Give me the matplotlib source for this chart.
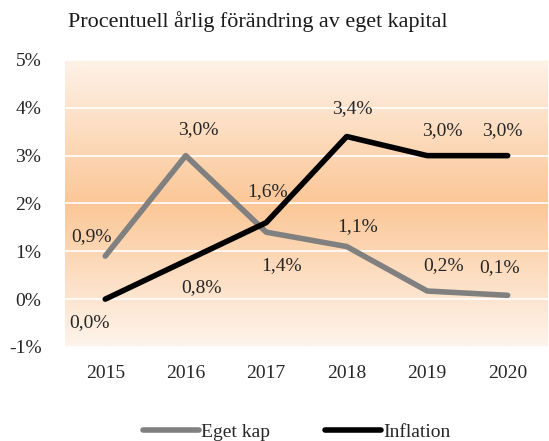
import numpy as np
import matplotlib
matplotlib.use('Agg')
import matplotlib.pyplot as plt
from matplotlib.colors import LinearSegmentedColormap

plt.rcParams['font.family'] = ['Liberation Serif', 'DejaVu Serif']

# Data
years = ['2015', '2016', '2017', '2018', '2019', '2020']
eget_kap = [0.9, 3.0, 1.4, 1.1, 0.17, 0.08]
inflation = [0.0, 0.8, 1.6, 3.4, 3.0, 3.0]
eget_kap_labels = ['0,9%', '3,0%', '1,4%', '1,1%', '0,2%', '0,1%']
inflation_labels = ['0,0%', '0,8%', '1,6%', '3,4%', '3,0%', '3,0%']
y_ticks = [-1, 0, 1, 2, 3, 4, 5]

# label offsets in points (dx, dy)
eget_offsets = [(-10, 14), (9, 19), (11, -24), (8, 14), (12, 18), (-6, 20)]
infl_offsets = [(-11, -17), (11, -19), (1, 22), (4, 20), (11, 18), (-4, 18)]

fig = plt.figure(figsize=(5.49, 4.41), dpi=100)
ax = fig.add_axes([0.1184, 0.2132, 0.8796, 0.6508])

x = np.arange(len(years))

# gradient background
cmap = LinearSegmentedColormap.from_list('bg', ['#FEF2E8', '#FBC797', '#FEF4EC'])
grad = np.linspace(0, 1, 256).reshape(-1, 1)
ax.imshow(grad, cmap=cmap, aspect='auto', extent=[0, 1, 0, 1],
          transform=ax.transAxes, zorder=0)

ax.set_xlim(-0.5, 5.5)
ax.set_ylim(-1, 5)
ax.set_yticks(y_ticks)
ax.set_yticklabels([f'{v}%' for v in y_ticks])
ax.set_xticks(x)
ax.set_xticklabels(years)
ax.yaxis.grid(True, color='white', lw=1.2, zorder=1)
ax.set_axisbelow(False)
ax.tick_params(length=0, labelsize=14, colors='#262626')
ax.tick_params(axis='x', pad=13)
ax.tick_params(axis='y', pad=17)
for s in ax.spines.values():
    s.set_visible(False)

l1, = ax.plot(x, eget_kap, color='#808080', lw=4, zorder=3, label='Eget kap',
              solid_capstyle='round')
l2, = ax.plot(x, inflation, color='#000000', lw=4, zorder=4, label='Inflation',
              solid_capstyle='round')

for xi, yi, t, off in zip(x, eget_kap, eget_kap_labels, eget_offsets):
    ax.annotate(t, (xi, yi), xytext=off, textcoords='offset points',
                ha='center', va='center', fontsize=14, color='#262626', zorder=5)
for xi, yi, t, off in zip(x, inflation, inflation_labels, infl_offsets):
    ax.annotate(t, (xi, yi), xytext=off, textcoords='offset points',
                ha='center', va='center', fontsize=14, color='#262626', zorder=5)

fig.text(0.47, 0.952, 'Procentuell årlig förändring av eget kapital',
         ha='center', va='center', fontsize=15.9, color='#1a1a1a')

fig.legend(handles=[l1, l2], loc='center', bbox_to_anchor=(0.54, 0.02),
           ncol=2, frameon=False, fontsize=14, handlelength=2.9,
           handletextpad=0.1, columnspacing=2.8, labelcolor='#262626')

fig.savefig('out.png', dpi=100)
